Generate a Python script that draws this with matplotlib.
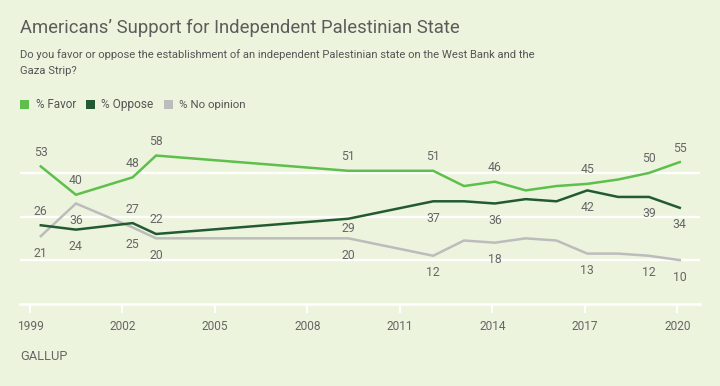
import matplotlib
matplotlib.use("Agg")
import matplotlib.pyplot as plt
from matplotlib import font_manager
from matplotlib.patches import Rectangle

# ---------------- data ----------------
years = [1999.35, 2000.49, 2002.33, 2003.09, 2009.33, 2012.08, 2013.08,
         2014.08, 2015.08, 2016.08, 2017.08, 2018.08, 2019.08, 2020.08]
favor = [53, 40, 48, 58, 51, 51, 44, 46, 42, 44, 45, 47, 50, 55]
oppose = [26, 24, 27, 22, 29, 37, 37, 36, 38, 37, 42, 39, 39, 34]
no_opinion = [21, 36, 25, 20, 20, 12, 19, 18, 20, 19, 13, 13, 12, 10]
labeled_idx = [0, 1, 2, 3, 4, 5, 7, 10, 12, 13]
series_names = ["% Favor", "% Oppose", "% No opinion"]
x_ticks = [1999, 2002, 2005, 2008, 2011, 2014, 2017, 2020]
x_tick_labels = ["1999", "2002", "2005", "2008", "2011", "2014", "2017", "2020"]
grid_vals = [10, 30, 50]

title = "Americans\u2019 Support for Independent Palestinian State"
sub1 = "Do you favor or oppose the establishment of an independent Palestinian state on the West Bank and the"
sub2 = "Gaza Strip?"

# ---------------- style ----------------
BG = "#ecf4de"
C_FAV = "#5ebf4c"
C_OPP = "#245a33"
C_NO = "#bcbcbc"
TXT = "#666666"

avail = {f.name for f in font_manager.fontManager.ttflist}
FONT = "Roboto"
for cand in ["Liberation Sans Narrow", "Roboto", "DejaVu Sans"]:
    if cand in avail:
        FONT = cand
        break
plt.rcParams["font.family"] = [FONT, "DejaVu Sans"]

W, H = 720, 386
fig = plt.figure(figsize=(7.2, 3.86), dpi=100, facecolor=BG)

def fx(px):
    return px / W

def fy(py):
    return 1 - py / H

ax_left, ax_right, ax_top, ax_bot = 20, 700, 129.4, 303.7
ax = fig.add_axes([fx(ax_left), fy(ax_bot), (ax_right - ax_left) / W, (ax_bot - ax_top) / H])
ax.set_facecolor(BG)
px_per_year = (677.3 - 30) / 21
ax.set_xlim(1999 - (30 - ax_left) / px_per_year, 1999 + (ax_right - 30) / px_per_year)
ax.set_ylim(-10, 70)

for g in grid_vals:
    ax.axhline(g, color="white", lw=1.6, zorder=1)

for s in ["top", "left", "right"]:
    ax.spines[s].set_visible(False)
ax.spines["bottom"].set_color("white")
ax.spines["bottom"].set_linewidth(1.8)
ax.set_yticks([])
ax.set_xticks(x_ticks)
ax.set_xticklabels(x_tick_labels)
ax.tick_params(axis="x", direction="out", length=6.8, width=1.4, color="white",
               labelcolor=TXT, labelsize=8.6, pad=5)

ax.plot(years, no_opinion, color=C_NO, lw=1.8, zorder=3, solid_joinstyle="miter")
ax.plot(years, oppose, color=C_OPP, lw=1.8, zorder=4, solid_joinstyle="miter")
ax.plot(years, favor, color=C_FAV, lw=1.8, zorder=5, solid_joinstyle="miter")

UP, DOWN = 14, -17
label_fs = 8.8
opp_offset = {0: UP, 2: UP, 3: UP, 4: -10}
for i in labeled_idx:
    ax.annotate(str(favor[i]), (years[i], favor[i]), xytext=(0, UP), textcoords="offset pixels",
                ha="center", va="center", fontsize=label_fs, color=TXT)
    ax.annotate(str(oppose[i]), (years[i], oppose[i]),
                xytext=(0, opp_offset.get(i, DOWN)), textcoords="offset pixels",
                ha="center", va="center", fontsize=label_fs, color=TXT)
    ax.annotate(str(no_opinion[i]), (years[i], no_opinion[i]), xytext=(0, DOWN),
                textcoords="offset pixels", ha="center", va="center", fontsize=label_fs, color=TXT)

renderer = fig.canvas.get_renderer()

def fit(t, target):
    w = t.get_window_extent(renderer=renderer).width
    t.set_fontsize(t.get_fontsize() * target / w)

t_title = fig.text(fx(20), fy(27.5), title, fontsize=13.5, color="#5c5c5c", va="center", ha="left")
fit(t_title, 439)
t_s1 = fig.text(fx(20), fy(55), sub1, fontsize=8.7, color="#555555", va="center", ha="left")
fit(t_s1, 518)
t_s2 = fig.text(fx(20), fy(70.5), sub2, fontsize=t_s1.get_fontsize(), color="#555555", va="center", ha="left")

# legend
leg_sq = [20, 86, 164.3]
leg_tx = [35.7, 101, 179]
leg_end = [76, 153, 245]
for c, sx, tx, te, name in zip([C_FAV, C_OPP, C_NO], leg_sq, leg_tx, leg_end, series_names):
    fig.add_artist(Rectangle((fx(sx), fy(109.3)), 8.7 / W, 9.3 / H, transform=fig.transFigure,
                             facecolor=c, edgecolor="none"))
    t = fig.text(fx(tx), fy(104.7), name, fontsize=8.4, color="#555555", va="center", ha="left")
    fit(t, te - tx)

t_g = fig.text(fx(20), fy(356), "GALLUP", fontsize=8.2, color=TXT, va="center", ha="left")
fit(t_g, 47.7)

fig.savefig("out.png", dpi=100, facecolor=BG)
